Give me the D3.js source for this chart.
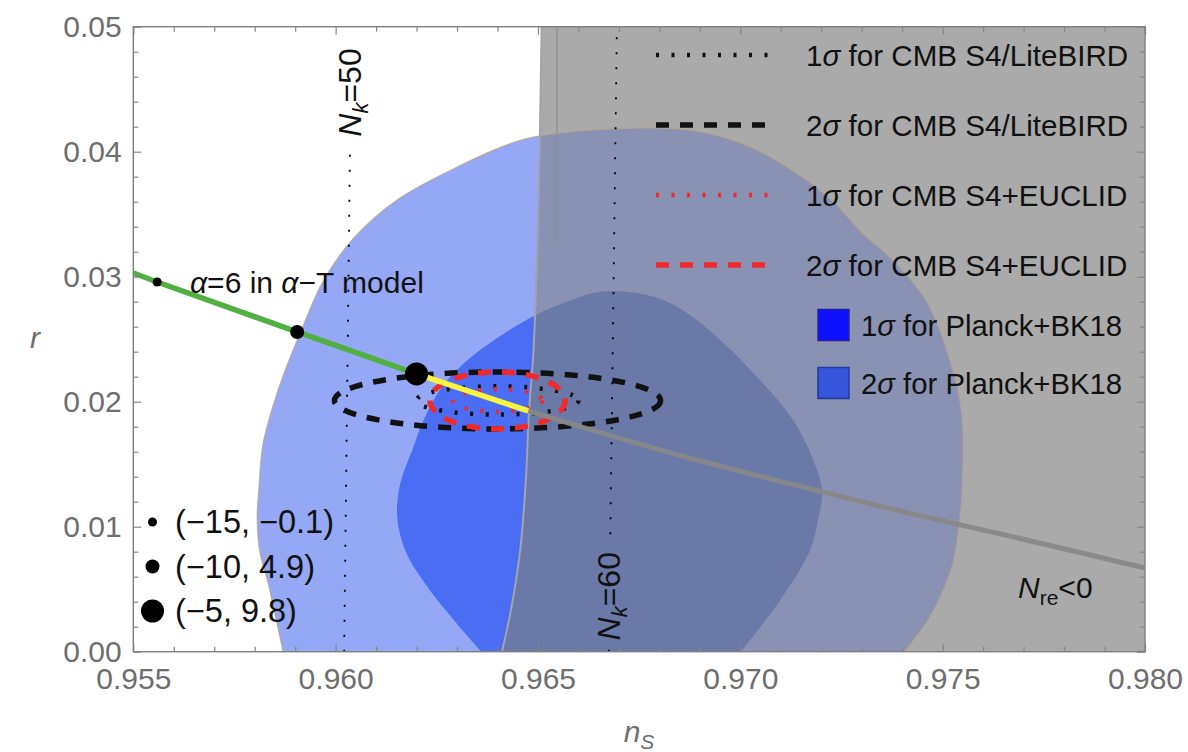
<!DOCTYPE html>
<html>
<head>
<meta charset="utf-8">
<script src="https://cdn.jsdelivr.net/npm/d3@7"></script>
<style>
  body { margin: 0; background: #fff; }
  text { font-family: "Liberation Sans", Arial, Helvetica, sans-serif; }
</style>
</head>
<body>
<div id="chart"></div>
<script>
// axis ticks
const nsTicks = [0.955, 0.96, 0.965, 0.97, 0.975, 0.98]
const rTicks = [0, 0.01, 0.02, 0.03, 0.04, 0.05]

// Planck+BK18 contours, [ns, r], traced from left bottom round to right bottom
const planck2s = [
  [0.9587, 0], [0.95833, 0.0055], [0.95812, 0.0081], [0.95806, 0.0108], [0.95810, 0.0129],
  [0.95818, 0.0161], [0.95828, 0.0177], [0.95866, 0.0217], [0.95915, 0.0257], [0.95970, 0.0297],
  [0.96045, 0.0331], [0.96150, 0.0361], [0.96283, 0.0385], [0.96456, 0.0409], [0.96620, 0.0417],
  [0.96883, 0.0417], [0.97024, 0.0404], [0.97115, 0.0388], [0.97227, 0.0361], [0.97301, 0.0335],
  [0.97365, 0.0317], [0.97459, 0.0281], [0.97523, 0.0228], [0.97548, 0.0188], [0.97550, 0.0145],
  [0.97543, 0.0108], [0.97523, 0.0068], [0.97469, 0.0028], [0.97405, 0]
]
const planck1s = [
  [0.96360, 0], [0.96285, 0.0028], [0.96220, 0.0055], [0.96172, 0.0081], [0.96152, 0.0108],
  [0.96160, 0.0135], [0.96189, 0.0161], [0.96221, 0.0188], [0.96270, 0.0215], [0.96332, 0.0235],
  [0.96414, 0.0254], [0.96498, 0.0270], [0.96579, 0.0281], [0.96653, 0.0288], [0.96745, 0.0287],
  [0.96826, 0.0279], [0.96913, 0.0260], [0.97041, 0.0220], [0.97135, 0.0183], [0.97190, 0.0145],
  [0.97202, 0.0128], [0.97192, 0.0105], [0.97172, 0.0081], [0.97098, 0.0041], [0.97002, 0]
]

// edge of the N_re<0 region, top to bottom
const nreEdge = [
  [0.96509, 0.05], [0.96504, 0.0401], [0.96498, 0.0321], [0.96489, 0.0241], [0.96478, 0.0193],
  [0.96470, 0.0137], [0.96456, 0.0081], [0.96433, 0.0033], [0.96411, 0]
]
const nreEdgeInner = [[0.96547, 0.05], [0.96547, 0.0325]]

// e-fold lines
const nk50 = [[0.96021, 0], [0.96039, 0.05]]
const nk60 = [[0.96675, 0], [0.96695, 0.05]]

// alpha-T model, alpha = 6
const greenPath = [[0.955, 0.0303], [0.95559, 0.02958], [0.95905, 0.02558], [0.96200, 0.02222]]
const yellowPath = [[0.96200, 0.02222], [0.96476, 0.01926]]
const grayPath = [[0.96476, 0.01926], [0.96777, 0.01637], [0.97098, 0.01362], [0.97395, 0.01126], [0.97691, 0.00906], [0.98, 0.0067]]
const dotNs = [0.95559, 0.95905, 0.96200]
const dotR = [0.02958, 0.02558, 0.02222]
const dotLabels = ['(\u221215, \u22120.1)', '(\u221210, 4.9)', '(\u22125, 9.8)']

// CMB S4 forecasts
const fcLabels = ['CMB S4/LiteBIRD', 'CMB S4/LiteBIRD', 'CMB S4+EUCLID', 'CMB S4+EUCLID']
const fcSigma = ['1', '2', '1', '2']
const fcCenter = [0.9640, 0.0201]
const fcSemiNs = [0.0020, 0.00403, 0.0011, 0.00167]
const fcSemiR = [0.00113, 0.00228, 0.0009, 0.00228]

const planckSigma = ['1', '2']

// ---------------------------------------------------------------
const W = 1188
const H = 752
const fcStyle = [
  { color: '#111', dash: '3,12.5', w: 4.5 },
  { color: '#111', dash: '13,11', w: 5.5 },
  { color: '#f02a2a', dash: '3,12.5', w: 4.5 },
  { color: '#f02a2a', dash: '13,11', w: 5.5 },
]
const dotSize = [4.5, 7, 11.5]

const x = d3.scaleLinear().domain([nsTicks[0], nsTicks[nsTicks.length - 1]]).range([133.3, 1145])
const y = d3.scaleLinear().domain([rTicks[0], rTicks[rTicks.length - 1]]).range([651.7, 26.7])

const svg = d3.select('#chart').append('svg').attr('width', W).attr('height', H)
svg.append('rect').attr('width', W).attr('height', H).attr('fill', '#fff')

const defs = svg.append('defs')
defs.append('clipPath').attr('id', 'frame')
  .append('rect').attr('x', x(0.955)).attr('y', y(0.05))
  .attr('width', x(0.98) - x(0.955)).attr('height', y(0) - y(0.05))

const line = d3.line().x((d) => x(d[0])).y((d) => y(d[1]))
const smooth = d3.line().x((d) => x(d[0])).y((d) => y(d[1])).curve(d3.curveCatmullRom)

const p2 = smooth(planck2s) + 'Z'
const p1 = smooth(planck1s) + 'Z'
const nreD = smooth(nreEdge) + `L${x(0.98)},${y(0)}L${x(0.98)},${y(0.05)}Z`

defs.append('clipPath').attr('id', 'nre').append('path').attr('d', nreD)

const plot = svg.append('g').attr('clip-path', 'url(#frame)')

// contours on the white side
plot.append('path').attr('d', p2).attr('fill', '#94a8f6')
plot.append('path').attr('d', p1).attr('fill', '#4b6df4')
// N_re<0 region
plot.append('path').attr('d', nreD).attr('fill', '#aaaaaa')
const over = plot.append('g').attr('clip-path', 'url(#nre)')
over.append('path').attr('d', p2).attr('fill', '#8a92b4')
over.append('path').attr('d', p1).attr('fill', '#6b79a9')
plot.append('path').attr('d', p2).attr('fill', 'none')
  .attr('stroke', '#b8a48a').attr('stroke-width', 1.2).attr('opacity', 0.75)
plot.append('path').attr('d', smooth(nreEdge)).attr('fill', 'none')
  .attr('stroke', '#a3a3ab').attr('stroke-width', 2)
plot.append('path').attr('d', line(nreEdgeInner)).attr('fill', 'none')
  .attr('stroke', '#8e8e8e').attr('stroke-width', 1.2)

// e-fold lines, broken where the labels sit
const along = (seg, r) => seg[0][0] + ((seg[1][0] - seg[0][0]) * (r - seg[0][1])) / (seg[1][1] - seg[0][1])
const dotted = (seg, r0, r1) => {
  plot.append('path')
    .attr('d', line([[along(seg, r0), r0], [along(seg, r1), r1]]))
    .attr('stroke', '#000').attr('stroke-width', 1.8).attr('stroke-dasharray', '2,13')
    .attr('fill', 'none')
}
dotted(nk50, 0, 0.0408)
dotted(nk60, 0.0094, 0.05)
dotted(nk60, 0, 0.0006)

// forecast ellipses
fcSemiNs.forEach((a, i) => {
  const b = fcSemiR[i]
  const s = fcStyle[i]
  plot.append('ellipse')
    .attr('cx', x(fcCenter[0])).attr('cy', y(fcCenter[1]))
    .attr('rx', x(fcCenter[0] + a) - x(fcCenter[0]))
    .attr('ry', y(fcCenter[1]) - y(fcCenter[1] + b))
    .attr('fill', 'none').attr('stroke', s.color)
    .attr('stroke-width', s.w).attr('stroke-dasharray', s.dash)
})

// model trajectory
plot.append('path').attr('d', smooth(grayPath)).attr('fill', 'none')
  .attr('stroke', '#888').attr('stroke-width', 5).attr('opacity', 0.95)
plot.append('path').attr('d', line(greenPath)).attr('fill', 'none')
  .attr('stroke', '#52b043').attr('stroke-width', 5.5)
plot.append('path').attr('d', line(yellowPath)).attr('fill', 'none')
  .attr('stroke', '#f7f53f').attr('stroke-width', 5.5)

dotNs.forEach((d, i) => {
  plot.append('circle').attr('cx', x(d)).attr('cy', y(dotR[i])).attr('r', dotSize[i]).attr('fill', '#000')
})

// labels inside the frame
const lab = svg.append('g').attr('fill', '#111')

const nkLabel = (seg, r, n) => {
  const t = lab.append('text')
    .attr('transform', `translate(${x(along(seg, r)) + 11},${y(r)}) rotate(-90)`)
    .attr('font-size', 32)
  t.append('tspan').attr('font-style', 'italic').text('N')
  t.append('tspan').attr('font-style', 'italic').attr('font-size', 22).attr('dy', 7).text('k')
  t.append('tspan').attr('dy', -7).text('=' + n)
}
nkLabel(nk50, 0.0412, 50)
nkLabel(nk60, 0.0009, 60)

const nre = lab.append('text').attr('x', 1018).attr('y', 598).attr('font-size', 30)
nre.append('tspan').attr('font-style', 'italic').text('N')
nre.append('tspan').attr('font-size', 21).attr('dy', 7).text('re')
nre.append('tspan').attr('dy', -7).text('<0')

const at = lab.append('text').attr('x', 190).attr('y', 293).attr('font-size', 30)
at.append('tspan').attr('font-style', 'italic').text('\u03b1')
at.append('tspan').text('=6 in ')
at.append('tspan').attr('font-style', 'italic').text('\u03b1')
at.append('tspan').text('\u2212T model')

// dot legend
dotLabels.forEach((t, i) => {
  const cy = 522 + i * 44.5
  lab.append('circle').attr('cx', 152.5).attr('cy', cy).attr('r', dotSize[i]).attr('fill', '#000')
  lab.append('text').attr('x', 175).attr('y', cy + 11).attr('font-size', 32.5).text(t)
})

// forecast legend
fcLabels.forEach((t, i) => {
  const ry = 55 + i * 70
  const s = fcStyle[i]
  lab.append('line').attr('x1', 656).attr('x2', 776).attr('y1', ry).attr('y2', ry)
    .attr('stroke', s.color).attr('stroke-width', s.w).attr('stroke-dasharray', s.dash)
  const tx = lab.append('text').attr('x', 806).attr('y', ry + 10.5).attr('font-size', 29.6)
  tx.append('tspan').text(fcSigma[i])
  tx.append('tspan').attr('font-style', 'italic').text('\u03c3')
  tx.append('tspan').text(' for ' + t)
})

// Planck legend
const swFill = ['#0c10ff', '#3657dc']
const swStroke = ['#23239a', '#23389a']
planckSigma.forEach((s, i) => {
  const ry = 325 + i * 58
  lab.append('rect').attr('x', 818).attr('y', ry - 15.5).attr('width', 31).attr('height', 31)
    .attr('fill', swFill[i]).attr('stroke', swStroke[i]).attr('stroke-width', 1.5)
  const tx = lab.append('text').attr('x', 861).attr('y', ry + 10.5).attr('font-size', 29.3)
  tx.append('tspan').text(s)
  tx.append('tspan').attr('font-style', 'italic').text('\u03c3')
  tx.append('tspan').text(' for Planck+BK18')
})

// frame and ticks
const minorNs = d3.range(0.956, 0.9801, 0.001).filter((v) => Math.abs(Math.round(v * 200) - v * 200) > 1e-6)
const minorR = d3.range(0.002, 0.0501, 0.002).filter((v) => Math.abs(Math.round(v * 100) - v * 100) > 1e-6)

const styleAxis = (g) => {
  g.select('.domain').remove()
  g.selectAll('line').attr('stroke', '#868686').attr('stroke-width', 1.2)
  g.selectAll('text').attr('fill', '#6e6e6e')
  g.attr('font-size', 30).attr('font-family', '"Liberation Sans", Arial, sans-serif')
}

svg.append('g').attr('transform', `translate(0,${y(0)})`)
  .call(d3.axisBottom(x).tickValues(nsTicks).tickSize(-8).tickPadding(16).tickFormat(d3.format('.3f'))).call(styleAxis)
svg.append('g').attr('transform', `translate(0,${y(0)})`)
  .call(d3.axisBottom(x).tickValues(minorNs).tickSize(-5).tickFormat('')).call(styleAxis)
svg.append('g').attr('transform', `translate(0,${y(0.05)})`)
  .call(d3.axisTop(x).tickValues(nsTicks).tickSize(-8).tickFormat('')).call(styleAxis)
svg.append('g').attr('transform', `translate(0,${y(0.05)})`)
  .call(d3.axisTop(x).tickValues(minorNs).tickSize(-5).tickFormat('')).call(styleAxis)
svg.append('g').attr('transform', `translate(${x(0.955)},0)`)
  .call(d3.axisLeft(y).tickValues(rTicks).tickSize(-8).tickPadding(11.6).tickFormat(d3.format('.2f'))).call(styleAxis)
svg.append('g').attr('transform', `translate(${x(0.955)},0)`)
  .call(d3.axisLeft(y).tickValues(minorR).tickSize(-5).tickFormat('')).call(styleAxis)
svg.append('g').attr('transform', `translate(${x(0.98)},0)`)
  .call(d3.axisRight(y).tickValues(rTicks).tickSize(-8).tickFormat('')).call(styleAxis)
svg.append('g').attr('transform', `translate(${x(0.98)},0)`)
  .call(d3.axisRight(y).tickValues(minorR).tickSize(-5).tickFormat('')).call(styleAxis)

svg.append('rect').attr('x', x(0.955)).attr('y', y(0.05))
  .attr('width', x(0.98) - x(0.955)).attr('height', y(0) - y(0.05))
  .attr('fill', 'none').attr('stroke', '#7f7f7f').attr('stroke-width', 1.4)

// axis titles
svg.append('text').attr('x', 30).attr('y', 348).attr('font-size', 30)
  .attr('font-style', 'italic').attr('fill', '#6e6e6e').text('r')
const nsT = svg.append('text').attr('x', 639).attr('y', 742).attr('font-size', 30)
  .attr('text-anchor', 'middle').attr('fill', '#6e6e6e')
nsT.append('tspan').attr('font-style', 'italic').text('n')
nsT.append('tspan').attr('font-style', 'italic').attr('font-size', 21).attr('dy', 7).text('S')
</script>
</body>
</html>
